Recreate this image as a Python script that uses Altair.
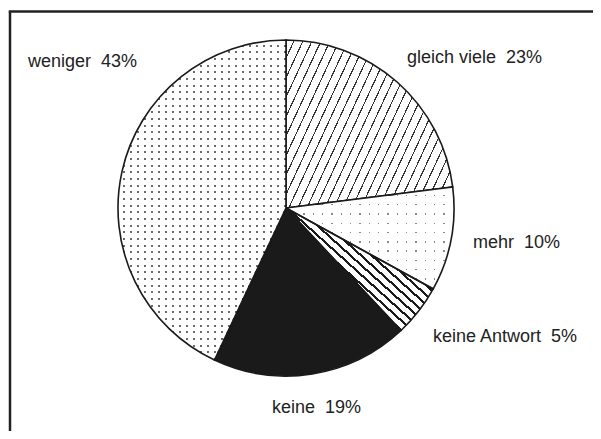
import altair as alt
import pandas as pd

# ---- data ----
kategorien = ["gleich viele", "mehr", "keine Antwort", "keine", "weniger"]
anteile = [23, 10, 5, 19, 43]
reihenfolge = [1, 2, 3, 4, 5]
beschriftungen = ["gleich viele\u00a0 23%", "mehr\u00a0 10%", "keine Antwort\u00a0 5%",
                  "keine\u00a0 19%", "weniger\u00a0 43%"]

df = pd.DataFrame({"kategorie": kategorien, "anteil": anteile,
                   "ordnung": reihenfolge, "label": beschriftungen})

W, H = 585, 423
CX, CY, R = 278, 200, 168
INK = "#1a1a1a"
CLEAR = "rgba(255,255,255,0)"


def stripes(n, frac, ink, paper, x1, y1, x2, y2):
    stops = []
    for i in range(n):
        a = i / n
        b = (i + 1) / n
        m = b - frac / n
        stops += [{"offset": round(a, 5), "color": paper},
                  {"offset": round(m, 5), "color": paper},
                  {"offset": round(m, 5), "color": ink},
                  {"offset": round(b, 5), "color": ink}]
    return {"gradient": "linear", "x1": x1, "y1": y1, "x2": x2, "y2": y2, "stops": stops}


hatch_gleich = stripes(27, 0.14, "#333333", "white", 0, 0, 1.2, 0.56)
hatch_antwort = stripes(23, 0.3, INK, "white", 0, 1, 0.9, 0.171)
cols_weniger = stripes(24, 0.28, "#6a6a6a", "white", 0, 0, 1, 0)
rows_weniger = stripes(48, 0.28, CLEAR, "white", 0, 0, 0, 1)
cols_mehr = stripes(18, 0.16, "#8a8a8a", "white", 0, 0, 1, 0)
rows_mehr = stripes(11, 0.16, CLEAR, "white", 0, 0, 0, 1)

theta = alt.Theta("anteil:Q", stack=True)
order = alt.Order("ordnung:Q", sort="ascending")
is_cat = lambda c: alt.datum.kategorie == c

base_fill = (alt.when(is_cat("gleich viele")).then(alt.value(hatch_gleich))
             .when(is_cat("mehr")).then(alt.value(cols_mehr))
             .when(is_cat("keine Antwort")).then(alt.value(hatch_antwort))
             .when(is_cat("keine")).then(alt.value(INK))
             .otherwise(alt.value(cols_weniger)))

over_fill = (alt.when(is_cat("weniger")).then(alt.value(rows_weniger))
             .when(is_cat("mehr")).then(alt.value(rows_mehr))
             .otherwise(alt.value("transparent")))

pie_base = alt.Chart(df).mark_arc(outerRadius=R, strokeWidth=0).encode(
    theta=theta, order=order, fill=base_fill,
    x=alt.value(CX), y=alt.value(CY))

pie_over = alt.Chart(df).mark_arc(outerRadius=R, stroke=INK, strokeWidth=1.6).encode(
    theta=theta, order=order, fill=over_fill,
    x=alt.value(CX), y=alt.value(CY))

# label placement (annotation positions, view coordinates)
label_pos = {
    "weniger": (20, 59),
    "gleich viele": (399, 55),
    "mehr": (465, 240),
    "keine Antwort": (425, 334),
    "keine": (264, 405),
}

texts = []
for cat, (lx, ly) in label_pos.items():
    texts.append(
        alt.Chart(df).transform_filter(alt.datum.kategorie == cat)
        .mark_text(align="left", baseline="alphabetic", font="Liberation Sans",
                   fontSize=18, color="#222222")
        .encode(text="label:N", x=alt.value(lx), y=alt.value(ly))
    )

frame_df = pd.DataFrame({"f": [0]})
frame_left = alt.Chart(frame_df).mark_rule(color="#222222", strokeWidth=2.5).encode(
    x=alt.value(2), y=alt.value(3.5), y2=alt.value(H))
frame_top = alt.Chart(frame_df).mark_rule(color="#222222", strokeWidth=2.5).encode(
    x=alt.value(0.75), x2=alt.value(W), y=alt.value(3.5))

chart = alt.layer(pie_base, pie_over, *texts, frame_left, frame_top).properties(
    width=W, height=H, padding=0, background="white",
    autosize=alt.AutoSizeParams(type="none"),
).configure_view(stroke=None)

chart.save("out.html", embed_options={"renderer": "svg", "actions": False})
